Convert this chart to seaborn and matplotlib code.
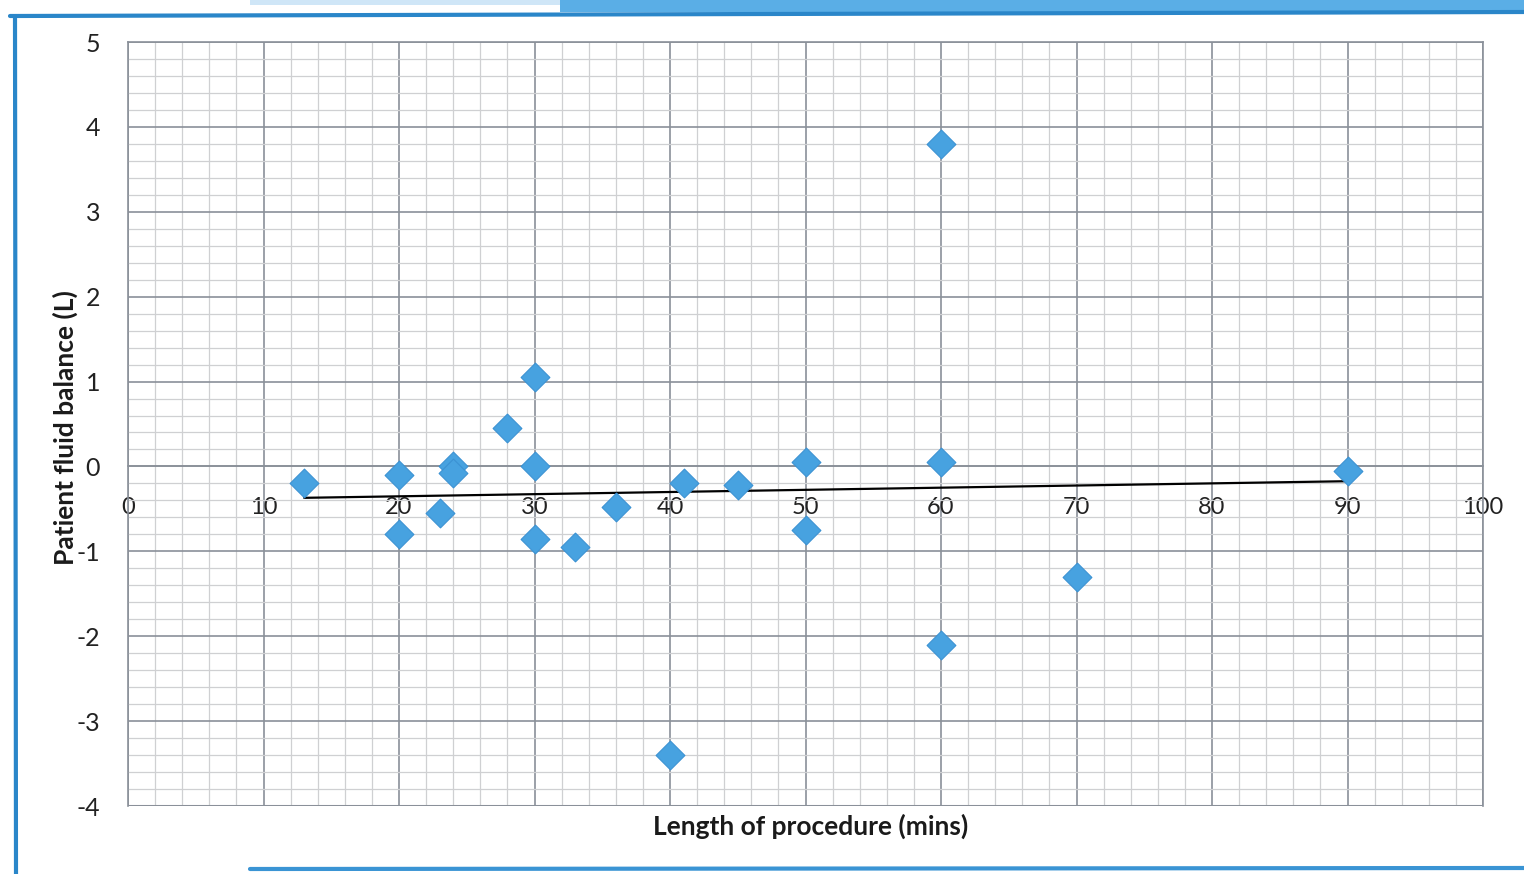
import numpy as np
import pandas as pd
import matplotlib
matplotlib.use("Agg")
import matplotlib.pyplot as plt
import seaborn as sns
from matplotlib.ticker import MultipleLocator
from matplotlib.patches import Rectangle
from matplotlib.lines import Line2D

# Procedure length (minutes) vs. patient fluid balance (litres)
procedure_mins = [13, 20, 20, 23, 24, 24, 28, 30, 30, 30, 33,
                  36, 40, 41, 45, 50, 50, 60, 60, 60, 70, 90]
fluid_balance_l = [-0.2, -0.1, -0.8, -0.55, 0.0, -0.08, 0.45, 1.05, 0.0, -0.85, -0.95,
                   -0.48, -3.4, -0.2, -0.22, 0.05, -0.75, 3.8, 0.05, -2.1, -1.3, -0.05]
x_ticks = list(range(0, 101, 10))
y_ticks = list(range(-4, 6))

df = pd.DataFrame({"mins": procedure_mins, "balance": fluid_balance_l})

sns.set_theme(style="white")
plt.rcParams["font.family"] = ["Lato", "DejaVu Sans"]

W, H = 1524, 874
fig = plt.figure(figsize=(W / 100, H / 100), dpi=100)
fig.patch.set_facecolor("white")

# page frame in blue
blue = "#2a86c9"
fig.add_artist(Rectangle((560 / W, 1 - 12 / H), 1, 12 / H, transform=fig.transFigure,
                         facecolor="#5aaee6", edgecolor="none", zorder=0))
fig.add_artist(Rectangle((250 / W, 1 - 5 / H), 310 / W, 5 / H, transform=fig.transFigure,
                         facecolor="#cfe6f7", edgecolor="none", zorder=0))
fig.add_artist(Line2D([10 / W, 1], [1 - 16 / H, 1 - 12 / H], transform=fig.transFigure,
                      color=blue, lw=3))
fig.add_artist(Line2D([15 / W, 16 / W], [1 - 16 / H, 0], transform=fig.transFigure,
                      color=blue, lw=3))
fig.add_artist(Line2D([250 / W, 1], [5 / H, 6 / H], transform=fig.transFigure,
                      color="#3a94d4", lw=3))

left, right, top, bottom = 128, 1483, 42, 806
ax = fig.add_axes([left / W, 1 - bottom / H, (right - left) / W, (bottom - top) / H])
ax.set_facecolor("white")

major_c = "#8a9099"
minor_c = "#cfd0d2"

ax.set_xlim(0, 100)
ax.set_ylim(-4, 5)
ax.xaxis.set_major_locator(MultipleLocator(10))
ax.xaxis.set_minor_locator(MultipleLocator(2))
ax.yaxis.set_major_locator(MultipleLocator(1))
ax.yaxis.set_minor_locator(MultipleLocator(0.2))
ax.grid(which="minor", color=minor_c, lw=0.9)
ax.grid(which="major", color=major_c, lw=1.2)
ax.set_axisbelow(True)

# trend line (least squares) and the observations
sns.regplot(data=df, x="mins", y="balance", scatter=False, ci=None, ax=ax,
            color="black", line_kws={"lw": 1.6, "zorder": 3})
sns.scatterplot(data=df, x="mins", y="balance", marker="D", s=215,
                color="#47a2e0", edgecolor="#3b92d3", linewidth=0.8, ax=ax, zorder=4)

# horizontal axis crosses at zero
ax.spines["bottom"].set_position(("data", 0))
for side in ["bottom", "left", "top", "right"]:
    ax.spines[side].set_color(major_c)
    ax.spines[side].set_linewidth(1.2)
ax.axhline(-4, color=major_c, lw=2.2, zorder=1)

ax.set_xticks(x_ticks)
ax.set_xticklabels([str(v) for v in x_ticks])
ax.set_yticks(y_ticks)
ax.set_yticklabels([str(v) for v in y_ticks])
ax.tick_params(axis="x", which="both", length=0, pad=22, labelsize=17, colors="#222222")
ax.tick_params(axis="y", which="major", length=6, width=1.2, color=major_c,
               direction="out", pad=14, labelsize=18, labelcolor="#222222")
ax.tick_params(axis="y", which="minor", length=0)

ax.set_xlabel("")
ax.set_ylabel("")
fig.text(811 / W, 1 - 826 / H, "Length of procedure (mins)", ha="center", va="center",
         fontsize=19, fontweight="bold", color="#1a1a1a")
fig.text(65 / W, 1 - 428 / H, "Patient fluid balance (L)", ha="center", va="center",
         rotation=90, fontsize=19, fontweight="bold", color="#1a1a1a")

fig.savefig("out.png", dpi=100, facecolor="white")
